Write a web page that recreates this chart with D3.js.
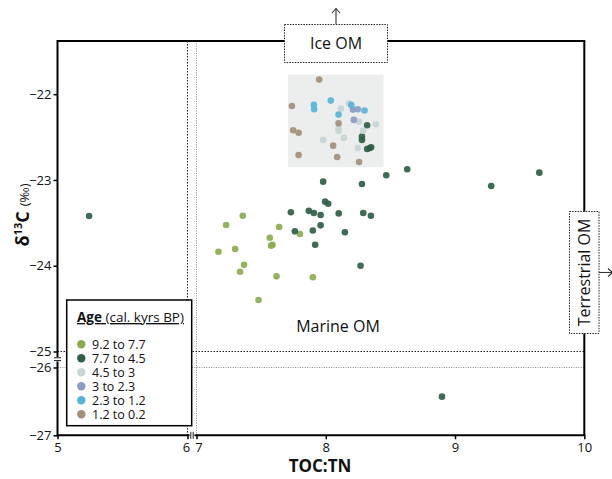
<!DOCTYPE html>
<html><head><meta charset="utf-8">
<script src="https://cdn.jsdelivr.net/npm/d3@7"></script>
<style>body{margin:0;background:#fff}svg{display:block}text{font-family:"Open Sans",sans-serif}</style>
</head><body>
<script>
const categories = ["9.2 to 7.7","7.7 to 4.5","4.5 to 3","3 to 2.3","2.3 to 1.2","1.2 to 0.2"];
const colors = ["#8cab4f","#2e5e45","#c8d5d4","#8a9bc4","#56b4d8","#a38f7a"];
const xTicks = [5,6,7,8,9,10];
const yTicks = [-22,-23,-24,-25,-26,-27];
const s1x = [7.358,7.229,7.639,7.567,7.588,7.577,7.80,7.17,7.299,7.368,7.337,7.619,7.90,7.48];
const s1y = [-23.417,-23.525,-23.548,-23.673,-23.755,-23.766,-23.63,-23.837,-23.805,-23.99,-24.07,-24.124,-24.135,-24.40];
const s2x = [5.243,8.899,8.468,8.63,9.28,9.652,7.98,8.28,7.995,8.019,7.73,7.869,7.908,7.96,8.10,8.29,8.349,7.761,7.90,7.96,8.148,7.918,8.269,8.32,8.28,8.28,8.32,8.341,8.351];
const s2y = [-23.42,-26.43,-22.945,-22.875,-23.07,-22.915,-23.02,-23.047,-23.253,-23.277,-23.377,-23.36,-23.385,-23.408,-23.39,-23.385,-23.417,-23.599,-23.59,-23.529,-23.61,-23.755,-24.0,-22.362,-22.495,-22.533,-22.64,-22.627,-22.618];
const s3x = [8.117,8.179,8.258,8.388,8.099,8.099,8.29,7.98,8.14,8.248];
const s3y = [-22.168,-22.105,-22.32,-22.35,-22.397,-22.43,-22.425,-22.533,-22.51,-22.627];
const s4x = [8.21,8.248,8.217];
const s4y = [-22.18,-22.175,-22.30];
const s5x = [7.908,7.91,8.039,8.197,8.30,8.099];
const s5y = [-22.125,-22.175,-22.075,-22.125,-22.19,-22.238];
const s6x = [7.949,7.738,8.099,7.748,7.79,8.057,7.79,8.088,8.258];
const s6y = [-21.83,-22.137,-22.34,-22.42,-22.45,-22.60,-22.71,-22.732,-22.79];
const seriesX = [s1x,s2x,s3x,s4x,s5x,s6x];
const seriesY = [s1y,s2y,s3y,s4y,s5y,s6y];
const iceRegion = {x0:7.707,x1:8.447,y0:-21.772,y1:-22.851};

const W=612,H=479;
const svg=d3.select("body").append("svg").attr("width",W).attr("height",H);
const L=57.5,R=584.3,T=41,B=435.3;
const x=d3.scaleLinear().domain([5,6,7,10]).range([L,187.5,196.5,R]);
const y=d3.scaleLinear().domain([-27,-26,-25,-21.38]).range([B,367.5,351.5,T]);

// shaded ice region
svg.append("rect").attr("x",x(iceRegion.x0)).attr("y",y(iceRegion.y0))
  .attr("width",x(iceRegion.x1)-x(iceRegion.x0)).attr("height",y(iceRegion.y1)-y(iceRegion.y0))
  .attr("fill","#eceeed");

// dotted break lines
svg.append("line").attr("x1",x(6)).attr("x2",x(6)).attr("y1",T).attr("y2",B).attr("stroke","#222").attr("stroke-width",1).attr("stroke-dasharray","1.5,1.5");
svg.append("line").attr("x1",x(7)).attr("x2",x(7)).attr("y1",T).attr("y2",B).attr("stroke","#8a8a8a").attr("stroke-width",1).attr("stroke-dasharray","1,1.4");
svg.append("line").attr("x1",L).attr("x2",R).attr("y1",y(-25)).attr("y2",y(-25)).attr("stroke","#222").attr("stroke-width",1).attr("stroke-dasharray","1.5,1.5");
svg.append("line").attr("x1",L).attr("x2",R).attr("y1",y(-26)).attr("y2",y(-26)).attr("stroke","#8a8a8a").attr("stroke-width",1).attr("stroke-dasharray","1,1.4");

// frame top/right
svg.append("line").attr("x1",L).attr("x2",R+1).attr("y1",T).attr("y2",T).attr("stroke","#000").attr("stroke-width",2);
svg.append("line").attr("x1",R).attr("x2",R).attr("y1",T).attr("y2",B).attr("stroke","#000").attr("stroke-width",2);

// axes
const gx=svg.append("g").attr("transform",`translate(0,${B})`)
  .call(d3.axisBottom(x).tickValues(xTicks).tickSize(4).tickPadding(3).tickFormat(d3.format("d")));
gx.select(".domain").remove();
gx.selectAll("text").attr("font-size",13).attr("fill","#111").attr("font-family","Open Sans")
  .attr("dx",d=>d===6?"-1.5":d===7?"2":"0");
gx.selectAll("line").attr("stroke","#000").attr("stroke-width",1.5);
const gy=svg.append("g").attr("transform",`translate(${L},0)`)
  .call(d3.axisLeft(y).tickValues(yTicks).tickSize(4).tickPadding(2).tickFormat(d3.format("d")));
gy.select(".domain").remove();
gy.selectAll("text").attr("font-size",13).attr("fill","#111").attr("font-family","Open Sans");
gy.selectAll("line").attr("stroke","#000").attr("stroke-width",1.5);
// axis lines with breaks
svg.append("line").attr("x1",L).attr("x2",189.5).attr("y1",B).attr("y2",B).attr("stroke","#000").attr("stroke-width",2);
svg.append("line").attr("x1",194.5).attr("x2",R+1).attr("y1",B).attr("y2",B).attr("stroke","#000").attr("stroke-width",2);
[190.8,193.2].forEach(xx=>svg.append("line").attr("x1",xx).attr("x2",xx).attr("y1",B-3.5).attr("y2",B+3.5).attr("stroke","#000").attr("stroke-width",0.9));
svg.append("line").attr("x1",L).attr("x2",L).attr("y1",T-1).attr("y2",357).attr("stroke","#000").attr("stroke-width",2);
svg.append("line").attr("x1",L).attr("x2",L).attr("y1",361.5).attr("y2",B+1).attr("stroke","#000").attr("stroke-width",2);
[357.8,360.6].forEach(yy=>svg.append("line").attr("x1",L-3.5).attr("x2",L+3.5).attr("y1",yy).attr("y2",yy).attr("stroke","#000").attr("stroke-width",0.9));

// points
seriesX.forEach((xs,i)=>{
  svg.append("g").selectAll("circle").data(xs.map((v,j)=>[v,seriesY[i][j]])).join("circle")
    .attr("cx",d=>x(d[0])).attr("cy",d=>y(d[1])).attr("r",3.3)
    .attr("fill",colors[i]).attr("fill-opacity",0.92);
});

// Ice OM annotation
svg.append("line").attr("x1",336).attr("x2",336).attr("y1",24).attr("y2",8.5).attr("stroke","#333").attr("stroke-width",1.1);
svg.append("path").attr("d","M332,13 L336,8.5 L340,13").attr("fill","none").attr("stroke","#333").attr("stroke-width",1.1);
svg.append("rect").attr("x",284.5).attr("y",24.5).attr("width",103).attr("height",38).attr("fill","#fff").attr("stroke","#222").attr("stroke-width",1).attr("stroke-dasharray","1.5,1.2");
svg.append("text").attr("x",336).attr("y",49).attr("text-anchor","middle").attr("font-size",16).attr("fill","#111").text("Ice OM");

// Terrestrial OM annotation
svg.append("line").attr("x1",599).attr("x2",614).attr("y1",272.5).attr("y2",272.5).attr("stroke","#333").attr("stroke-width",1.1);
svg.append("path").attr("d","M608,268.5 L612.5,272.5 L608,276.5").attr("fill","none").attr("stroke","#333").attr("stroke-width",1.1);
svg.append("rect").attr("x",569.5).attr("y",211.5).attr("width",29.5).attr("height",122).attr("fill","#fff").attr("stroke","#222").attr("stroke-width",1).attr("stroke-dasharray","1.5,1.2");
svg.append("text").attr("transform","translate(590,272.5) rotate(-90)").attr("text-anchor","middle").attr("font-size",16).attr("fill","#111").text("Terrestrial OM");

// Marine OM
svg.append("text").attr("x",338).attr("y",332).attr("text-anchor","middle").attr("font-size",16).attr("fill","#111").text("Marine OM");

// Legend
svg.append("rect").attr("x",66.7).attr("y",300).attr("width",125).attr("height",125.7).attr("fill","#fff").attr("stroke","#000").attr("stroke-width",1.5);
const lt=svg.append("text").attr("x",77).attr("y",322).attr("font-size",13.5).attr("fill","#111").attr("text-decoration","underline");
lt.append("tspan").attr("font-weight","bold").text("Age");
lt.append("tspan").text(" (cal. kyrs BP)");
categories.forEach((c,i)=>{
  const yy=344.3+i*14;
  svg.append("circle").attr("cx",81.3).attr("cy",yy).attr("r",4.2).attr("fill",colors[i]);
  svg.append("text").attr("x",92).attr("y",yy+4.3).attr("font-size",12.5).attr("fill","#111").text(c);
});

// axis titles
svg.append("text").attr("x",320).attr("y",471.5).attr("text-anchor","middle").attr("font-size",17).attr("font-weight","bold").attr("fill","#111").text("TOC:TN");
const yl=svg.append("text").attr("transform","translate(29,215) rotate(-90)").attr("text-anchor","middle").attr("fill","#111");
yl.append("tspan").attr("font-size",18).attr("font-weight","bold").text("δ");
yl.append("tspan").attr("font-size",11).attr("font-weight","bold").attr("dy",-7).text("13");
yl.append("tspan").attr("font-size",18).attr("font-weight","bold").attr("dy",7).text("C");
yl.append("tspan").attr("font-size",13).attr("dx",5).text("(‰)");
</script>
</body></html>
